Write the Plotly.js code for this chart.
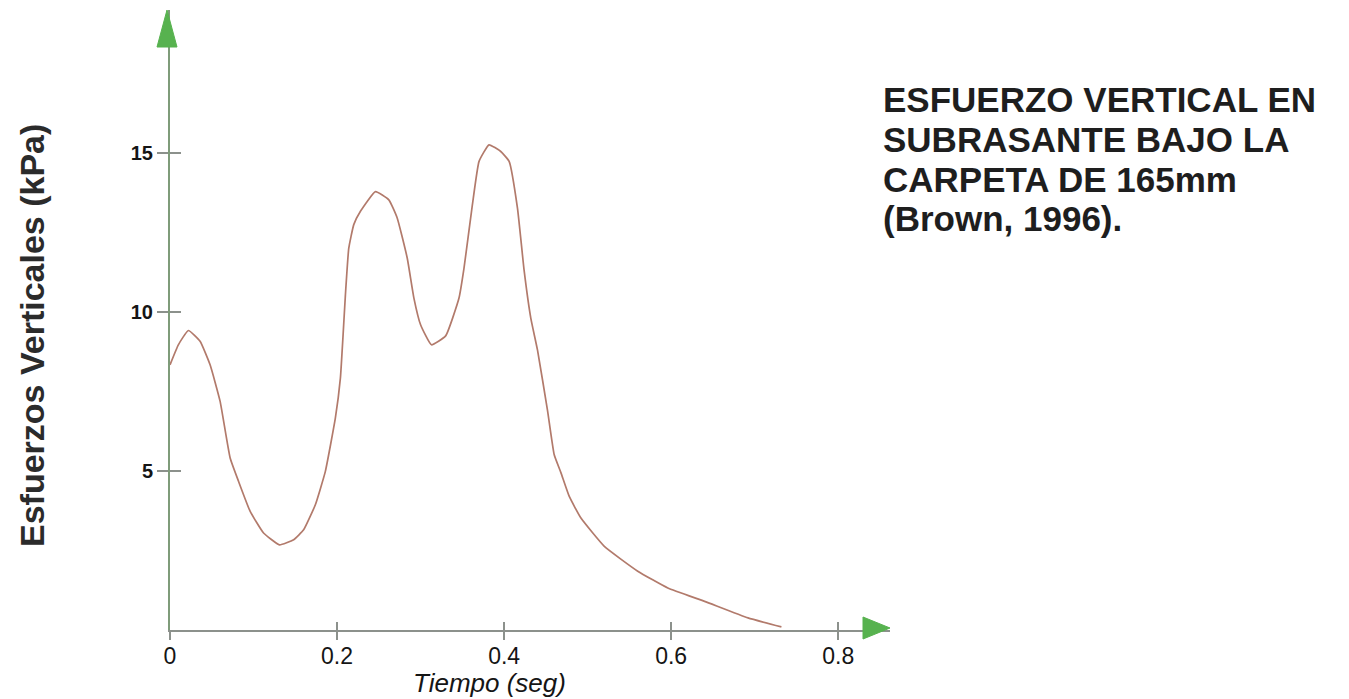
<!DOCTYPE html>
<html>
<head>
<meta charset="utf-8">
<script src="https://cdn.plot.ly/plotly-3.0.1.min.js"></script>
<style>
  html, body { margin: 0; padding: 0; background: #ffffff; }
  #chart { width: 1349px; height: 699px; }
</style>
</head>
<body>
<div id="chart"></div>
<script>
// Data
const tiempo = [0, 0.010, 0.022, 0.036, 0.048, 0.060, 0.072, 0.082, 0.096, 0.112, 0.131, 0.148, 0.160, 0.174, 0.186, 0.198, 0.204, 0.207, 0.210, 0.214, 0.220, 0.228, 0.246, 0.262, 0.272, 0.284, 0.292, 0.300, 0.313, 0.330, 0.346, 0.352, 0.362, 0.370, 0.382, 0.396, 0.406, 0.416, 0.424, 0.432, 0.440, 0.452, 0.460, 0.468, 0.478, 0.492, 0.520, 0.560, 0.596, 0.640, 0.692, 0.732];
const esfuerzo = [8.34, 8.97, 9.42, 9.08, 8.34, 7.19, 5.41, 4.68, 3.73, 3.05, 2.68, 2.84, 3.15, 3.94, 4.99, 6.67, 7.92, 9.18, 10.54, 12.0, 12.75, 13.17, 13.79, 13.53, 12.96, 11.70, 10.44, 9.60, 8.97, 9.25, 10.44, 11.38, 13.37, 14.74, 15.26, 15.05, 14.74, 13.27, 11.3, 9.8, 8.8, 6.9, 5.51, 4.95, 4.2, 3.52, 2.63, 1.85, 1.32, 0.90, 0.38, 0.1];
const xTickVals = [0, 0.2, 0.4, 0.6, 0.8];
const xTickText = ["0", "0.2", "0.4", "0.6", "0.8"];
const yTickVals = [5, 10, 15];
const yTickText = ["5", "10", "15"];
const titleLines = ["ESFUERZO VERTICAL EN", "SUBRASANTE BAJO LA", "CARPETA DE 165mm", "(Brown, 1996)."];
const xTitle = "Tiempo (seg)";
const yTitle = "Esfuerzos Verticales (kPa)";

const xRange = [0, 0.862];
const yRange = [0, 19.5];
const axisGrey = "#8c918c";
const axisGreen = "#7f9c7a";
const arrowGreen = "#57b24f";

const traces = [
  {
    x: tiempo, y: esfuerzo, type: "scatter", mode: "lines",
    line: { color: "#b27a6b", width: 1.7, shape: "spline", smoothing: 0.4 },
    hoverinfo: "x+y", showlegend: false
  },
  { x: [], y: [], xaxis: "x2", yaxis: "y2", type: "scatter", mode: "lines", showlegend: false, hoverinfo: "skip" }
];

const tickFontX = { family: "Liberation Sans, Arial, sans-serif", size: 23, color: "#151515" };
const tickFontY = { family: "Liberation Sans, Arial, sans-serif", size: 20, color: "#151515", weight: "bold" };

const plotTop = 10, plotH = 620, plotW = 720, plotL = 170;
const annotations = [];
const topsPx = [78, 118, 158, 197];
titleLines.forEach((t, i) => {
  annotations.push({
    xref: "paper", yref: "paper", x: (881 - plotL) / plotW, y: 1 - (topsPx[i] - plotTop) / plotH, showarrow: false,
    text: "<b>" + t + "</b>", xanchor: "left", yanchor: "top", align: "left",
    font: { family: "Liberation Sans, Arial, sans-serif", size: 35, color: "#1e1e1e" }
  });
});

annotations.push({
  xref: "paper", yref: "paper", x: (489 - plotL) / plotW, y: -(683 - 630) / plotH,
  showarrow: false, text: "<i>" + xTitle + "</i>", xanchor: "center", yanchor: "middle",
  font: { family: "Liberation Sans, Arial, sans-serif", size: 26, color: "#151515" }
});
annotations.push({
  xref: "paper", yref: "paper", x: -(plotL - 32) / plotW, y: 1 - (336 - plotTop) / plotH,
  showarrow: false, text: "<b>" + yTitle + "</b>", textangle: -90, xanchor: "center", yanchor: "middle",
  font: { family: "Liberation Sans, Arial, sans-serif", size: 34, color: "#2b2b2b" }
});

const shapes = [
  { // y-axis arrowhead
    type: "path", xref: "paper", yref: "paper", xsizemode: "pixel", ysizemode: "pixel",
    xanchor: 0, yanchor: 1,
    path: "M -3 0 L -13 -37 L 7 -37 Z",
    fillcolor: arrowGreen, line: { color: arrowGreen, width: 1 }
  },
  { // x-axis arrowhead
    type: "path", xref: "paper", yref: "paper", xsizemode: "pixel", ysizemode: "pixel",
    xanchor: 1, yanchor: 0,
    path: "M 0 2 L -27 13 L -27 -9 Z",
    fillcolor: arrowGreen, line: { color: arrowGreen, width: 1 }
  }
];

const layout = {
  width: 1349, height: 699,
  margin: { l: 170, r: 459, t: 10, b: 69, pad: 0 },
  paper_bgcolor: "#ffffff", plot_bgcolor: "#ffffff",
  showlegend: false,
  xaxis: {
    range: xRange, showgrid: false, zeroline: false,
    showline: true, linecolor: axisGrey, linewidth: 2,
    tickmode: "array", tickvals: xTickVals, ticktext: xTickText,
    ticks: "outside", ticklen: 8, tickwidth: 2, tickcolor: axisGrey,
    ticklabelstandoff: -4,
    tickfont: tickFontX, fixedrange: true
  },
  yaxis: {
    range: yRange, showgrid: false, zeroline: false,
    showline: true, linecolor: axisGreen, linewidth: 2,
    tickmode: "array", tickvals: yTickVals, ticktext: yTickText,
    ticks: "outside", ticklen: 11, tickwidth: 2, tickcolor: axisGrey,
    tickfont: tickFontY, fixedrange: true
  },
  xaxis2: {
    range: xRange, overlaying: "x", anchor: "y2", side: "bottom",
    showgrid: false, zeroline: false, showline: false,
    tickmode: "array", tickvals: xTickVals, showticklabels: false,
    ticks: "inside", ticklen: 8, tickwidth: 2, tickcolor: axisGrey, fixedrange: true
  },
  yaxis2: {
    range: yRange, overlaying: "y", anchor: "x2", side: "left",
    showgrid: false, zeroline: false, showline: false,
    tickmode: "array", tickvals: yTickVals, showticklabels: false,
    ticks: "inside", ticklen: 11, tickwidth: 2, tickcolor: axisGrey, fixedrange: true
  },
  annotations: annotations,
  shapes: shapes
};

Plotly.newPlot("chart", traces, layout, { displayModeBar: false, staticPlot: true });
</script>
</body>
</html>
